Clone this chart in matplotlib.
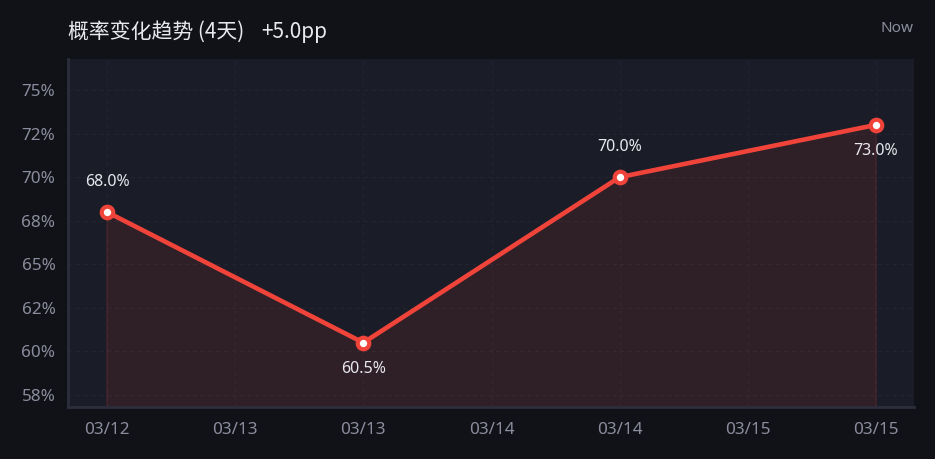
import matplotlib
matplotlib.use('Agg')
import matplotlib.pyplot as plt
from matplotlib.ticker import FuncFormatter, FixedLocator

# ---- data ----
dates = ['03/12', '03/13', '03/14', '03/15']
probs = [68.0, 60.5, 70.0, 73.0]
x_tick_labels = ['03/12', '03/13', '03/13', '03/14', '03/14', '03/15', '03/15']
x_tick_pos = [0, 0.5, 1, 1.5, 2, 2.5, 3]
y_ticks = [57.5, 60, 62.5, 65, 67.5, 70, 72.5, 75]
title_text = '概率变化趋势 (4天)'
change_text = '+5.0pp'
now_text = 'Now'
label_side = ['above', 'below', 'above', 'below']

# ---- style ----
FIG_BG = '#111217'
AX_BG = '#1a1c27'
RED = '#f0443a'
GRID = '#232533'
TICK_C = '#8b8d9e'
TEXT_C = '#e8e8ee'

plt.rcParams['font.family'] = ['Noto Sans', 'Noto Sans CJK SC', 'DejaVu Sans']

W, H = 935, 459
fig = plt.figure(figsize=(W / 100, H / 100), dpi=100, facecolor=FIG_BG)
ax = fig.add_axes([68 / W, 1 - 407 / H, (914 - 68) / W, (407 - 59) / H])
ax.set_facecolor(AX_BG)

x = list(range(len(probs)))
ymin, ymax = 56.81, 76.78

ax.fill_between(x, probs, ymin, facecolor=RED, alpha=0.10, edgecolor='none')
ax.fill_between(x, probs, ymin, facecolor='none', edgecolor=RED, alpha=0.15, linewidth=1)
ax.plot(x, probs, color=RED, linewidth=3.3, marker='o', markersize=8.3,
        markerfacecolor='white', markeredgecolor=RED, markeredgewidth=3.0,
        solid_capstyle='round', zorder=5)

for xi, v, side in zip(x, probs, label_side):
    off = 30 if side == 'above' else -26
    ax.annotate(f'{v:.1f}%', (xi, v), xytext=(0, off), textcoords='offset pixels',
                ha='center', va='center', color=TEXT_C, fontsize=11.5, zorder=6)

ax.set_xlim(-0.152, 3.148)
ax.set_ylim(ymin, ymax)
ax.xaxis.set_major_locator(FixedLocator(x_tick_pos))
ax.set_xticklabels(x_tick_labels)
ax.yaxis.set_major_locator(FixedLocator(y_ticks))
ax.yaxis.set_major_formatter(FuncFormatter(lambda v, p: f'{v:.0f}%'))

ax.grid(True, color=GRID, linestyle=(0, (4, 4)), linewidth=0.7)
ax.set_axisbelow(True)
for s in ['top', 'right']:
    ax.spines[s].set_visible(False)
for s in ['left', 'bottom']:
    ax.spines[s].set_color('#2c2e3c')
    ax.spines[s].set_linewidth(2)
ax.tick_params(axis='both', length=0, colors=TICK_C, labelsize=12.3)
ax.tick_params(axis='x', pad=11)
ax.tick_params(axis='y', pad=9)

fig.text(68 / W, 1 - 32 / H, title_text, color=TEXT_C, fontsize=15,
         family=['Noto Sans CJK SC', 'DejaVu Sans'], ha='left', va='center')
fig.text(261 / W, 1 - 32 / H, change_text, color=TEXT_C, fontsize=15,
         family=['Noto Sans CJK SC', 'DejaVu Sans'], ha='left', va='center')
fig.text(913 / W, 1 - 28 / H, now_text, color=TICK_C, fontsize=11,
         ha='right', va='center')

fig.savefig('out.png', dpi=100, facecolor=FIG_BG)
